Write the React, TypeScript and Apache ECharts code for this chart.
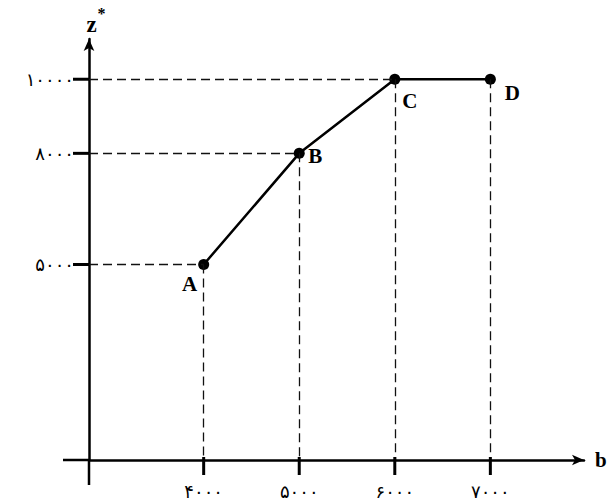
import React, { useEffect, useRef } from "react";
import * as echarts from "echarts";

// ---- data ----
const bValues = [4000, 5000, 6000, 7000];
const zValues = [5000, 8000, 10000, 10000];
const pointNames = ["A", "B", "C", "D"];
const xTickValues = [4000, 5000, 6000, 7000];
const yTickValues = [5000, 8000, 10000];

// axis extents (schematic axes: origin is not at zero)
const X_MIN = 2800;
const X_MAX = 7980;
const Y_MIN = -276;
const Y_MAX = 11086;

// label placement (style, not data)
const labelOffsets: [number, number][] = [
  [-14, 19],
  [16, 3],
  [15, 22],
  [22, 14],
];

const persianDigits = "۰۱۲۳۴۵۶۷۸۹";
const toPersian = (v: number | string) =>
  String(v).replace(/\d/g, (d) => persianDigits[+d]);

export default function App() {
  const ref = useRef<HTMLDivElement>(null);

  useEffect(() => {
    document.body.style.margin = "0";
    if (!ref.current) return;
    const chart = echarts.init(ref.current, undefined, { renderer: "svg" });

    const points = bValues.map((b, i) => ({
      value: [b, zValues[i]],
      label: {
        show: true,
        formatter: pointNames[i],
        position: "inside",
        offset: labelOffsets[i],
        color: "#000",
        fontFamily: "Liberation Serif",
        fontWeight: "bold",
        fontSize: 21,
      },
    }));

    // dashed guide lines
    const guides: any[] = [];
    const seenZ = new Set<number>();
    bValues.forEach((b, i) => {
      const z = zValues[i];
      if (!seenZ.has(z)) {
        seenZ.add(z);
        guides.push([{ coord: [X_MIN, z] }, { coord: [b, z] }]);
      }
      guides.push([{ coord: [b, z] }, { coord: [b, Y_MIN] }]);
    });

    const grid = {
      left: 89,
      right: 24,
      top: 39,
      bottom: 44,
      containLabel: false,
      outerBoundsMode: "none",
    };

    const labelCommon = {
      show: true,
      color: "#000",
      fontFamily: "DejaVu Sans",
      fontSize: 18,
      formatter: (v: number) => toPersian(v),
    };

    chart.setOption({
      animation: false,
      backgroundColor: "#fff",
      grid,
      xAxis: {
        type: "value",
        min: X_MIN,
        max: X_MAX,
        name: "b",
        nameLocation: "end",
        nameGap: 11,
        nameTextStyle: {
          color: "#000",
          fontFamily: "Liberation Serif",
          fontWeight: "bold",
          fontSize: 21,
        },
        axisLine: {
          show: true,
          onZero: false,
          symbol: ["none", "arrow"],
          symbolSize: [8, 12],
          lineStyle: { color: "#000", width: 2.5 },
        },
        axisTick: { show: false },
        axisLabel: { ...labelCommon, customValues: xTickValues, margin: 22 },
        splitLine: { show: false },
      },
      yAxis: {
        type: "value",
        min: Y_MIN,
        max: Y_MAX,
        name: "{z|z}{s|*}",
        nameLocation: "end",
        nameGap: 3,
        nameTextStyle: {
          padding: [0, 0, 0, 14],
          rich: {
            z: {
              color: "#000",
              fontFamily: "Liberation Serif",
              fontWeight: "bold",
              fontSize: 23,
              lineHeight: 23,
              verticalAlign: "bottom",
            },
            s: {
              color: "#000",
              fontFamily: "Liberation Serif",
              fontWeight: "bold",
              fontSize: 16,
              lineHeight: 16,
              verticalAlign: "bottom",
              padding: [0, 0, 15, 1],
            },
          },
        },
        axisLine: {
          show: true,
          onZero: false,
          symbol: ["none", "arrow"],
          symbolSize: [8, 12],
          lineStyle: { color: "#000", width: 2.5 },
        },
        axisTick: { show: false },
        axisLabel: { ...labelCommon, customValues: yTickValues, margin: 15 },
        splitLine: { show: false },
      },
      series: [
        {
          type: "line",
          data: [],
          z: 1,
          silent: true,
          markLine: {
            silent: true,
            symbol: ["none", "none"],
            label: { show: false },
            lineStyle: { color: "#111", width: 1.3, type: [9, 5] },
            data: guides,
          },
        },
        {
          type: "line",
          z: 3,
          data: points,
          symbol: "circle",
          symbolSize: 11,
          itemStyle: { color: "#000" },
          lineStyle: { color: "#000", width: 2.5 },
        },
      ],
    });

    // tick marks and axis stubs, positioned through the axis scales
    const toPx = (x: number, y: number) =>
      chart.convertToPixel({ xAxisIndex: 0, yAxisIndex: 0 }, [x, y]) as number[];
    const origin = toPx(X_MIN, Y_MIN);
    const elements: any[] = [
      {
        type: "polyline",
        silent: true,
        z: 100,
        shape: {
          points: [
            [origin[0] - 26, origin[1]],
            [origin[0], origin[1]],
            [origin[0], origin[1] + 25],
          ],
        },
        style: { stroke: "#000", lineWidth: 2.5, fill: "none" },
      },
    ];
    xTickValues.forEach((v) => {
      const p = toPx(v, Y_MIN);
      elements.push({
        type: "rect",
        silent: true,
        z: 100,
        shape: { x: p[0] - 1.5, y: p[1] - 3, width: 3, height: 18 },
        style: { fill: "#000" },
      });
    });
    yTickValues.forEach((v) => {
      const p = toPx(X_MIN, v);
      elements.push({
        type: "rect",
        silent: true,
        z: 100,
        shape: { x: p[0] - 16, y: p[1] - 1.5, width: 16, height: 3 },
        style: { fill: "#000" },
      });
    });
    chart.setOption({ graphic: { elements } });

    return () => chart.dispose();
  }, []);

  return (
    <div
      ref={ref}
      style={{ position: "absolute", left: 0, top: 0, width: 608, height: 504 }}
    />
  );
}
